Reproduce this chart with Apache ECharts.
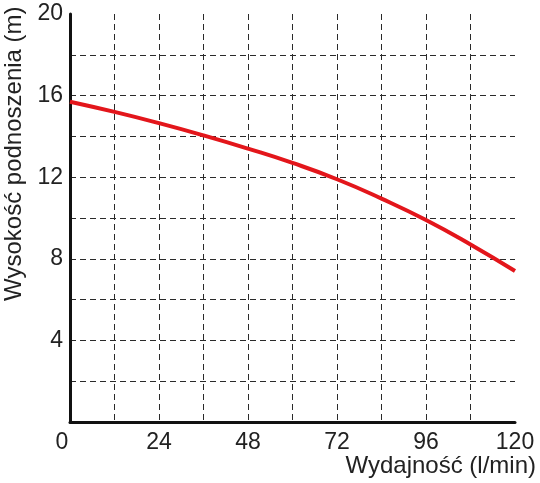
<!DOCTYPE html>
<html>
<head>
<meta charset="utf-8">
<script src="https://cdn.jsdelivr.net/npm/echarts@6/dist/echarts.min.js"></script>
<style>html,body{margin:0;padding:0;background:#fff}#c{width:540px;height:483px}</style>
</head>
<body>
<div id="c"></div>
<script>
var flowValues = [0, 12, 24, 36, 48, 60, 72, 84, 96, 108, 120];
var headValues = [15.7, 15.2, 14.65, 14.05, 13.4, 12.7, 11.9, 10.95, 9.9, 8.7, 7.4];
var xLabelStep = 24;
var yLabelStep = 4;
var xTitle = 'Wydajność (l/min)';
var yTitle = 'Wysokość podnoszenia (m)';

var font = '"Liberation Sans", Arial, sans-serif';
var chart = echarts.init(document.getElementById('c'));
var pts = flowValues.map(function (x, i) { return [x, headValues[i]]; });
var grid = { left: 70, right: 25, top: 14, bottom: 61 };
chart.setOption({
  animation: false,
  grid: grid,
  xAxis: {
    type: 'value', min: 0, max: 120, interval: 12,
    axisLine: { show: true, onZero: false, lineStyle: { color: '#111', width: 3 } },
    axisTick: { show: false },
    splitLine: { show: true, showMinLine: false, showMaxLine: false,
      lineStyle: { color: '#2a2a2a', type: [6, 4], width: 1 } },
    axisLabel: {
      fontFamily: font, fontSize: 23, color: '#222', margin: 9,
      formatter: function (v) { return v === 0 ? '{z|0}' : (v % xLabelStep === 0 ? String(v) : ''); },
      rich: { z: { fontFamily: font, fontSize: 23, color: '#222', padding: [0, 16, 8, 0] } }
    }
  },
  yAxis: {
    type: 'value', min: 0, max: 20, interval: 2,
    axisLine: { show: true, onZero: false, lineStyle: { color: '#111', width: 3 } },
    axisTick: { show: false },
    splitLine: { show: true, showMinLine: false, showMaxLine: false,
      lineStyle: { color: '#2a2a2a', type: [6, 4], width: 1 } },
    axisLabel: {
      fontFamily: font, fontSize: 23, color: '#222', margin: 7,
      formatter: function (v) { return (v % yLabelStep === 0 && v !== 0) ? String(v) : ''; }
    }
  },
  graphic: [
    { type: 'text', right: 4, top: 454,
      style: { text: xTitle, font: '24px ' + font, fill: '#222' } },
    { type: 'text', x: 2, y: 301, rotation: Math.PI / 2,
      style: { text: yTitle, font: '24px ' + font, fill: '#222', textAlign: 'left', textVerticalAlign: 'top' } }
  ],
  series: [{
    type: 'line', data: pts, smooth: 0.5, showSymbol: false,
    lineStyle: { color: '#e3161b', width: 4 }
  }]
});
</script>
</body>
</html>
